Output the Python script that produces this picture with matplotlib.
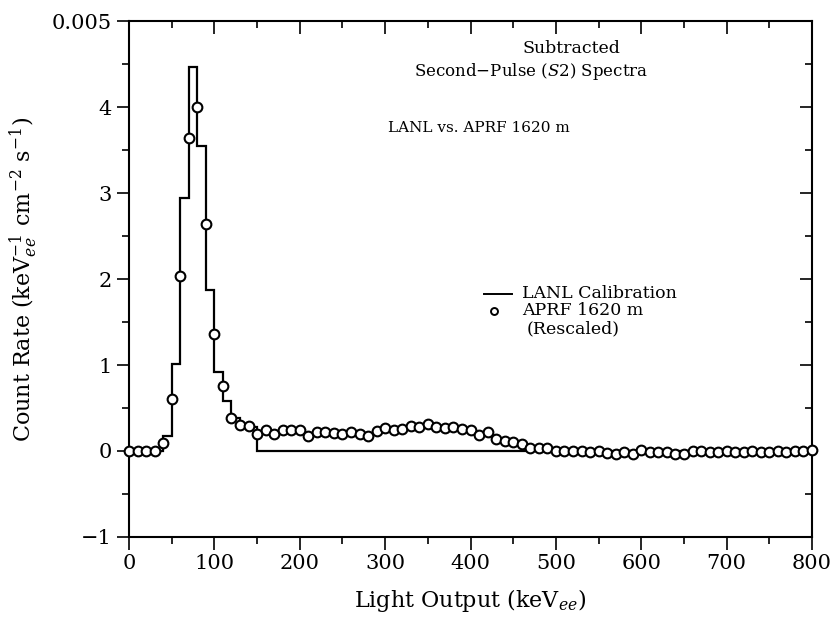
import numpy as np
import matplotlib
matplotlib.use('Agg')
import matplotlib.pyplot as plt

plt.rcParams['font.family'] = 'DejaVu Serif'
plt.rcParams['mathtext.fontset'] = 'dejavuserif'

# LANL calibration histogram, 10 keV bins from 0 to 800 keVee
bin_edges = np.arange(0, 810, 10)
lanl_peak = [0.0, 0.0, 0.0, 0.0, 0.17, 1.01, 2.94, 4.47, 3.55, 1.87,
             0.92, 0.58, 0.38, 0.28, 0.28]
lanl_values = np.array(lanl_peak + [0.0] * (80 - len(lanl_peak)))

# APRF 1620 m points (rescaled), one every 10 keV from 0 to 800
aprf_x = np.arange(0, 810, 10)
aprf_y = np.array([
    0.0, 0.0, 0.0, 0.0, 0.09, 0.60, 2.03, 3.64, 4.00, 2.64,
    1.36, 0.76, 0.38, 0.30, 0.29, 0.20, 0.24, 0.20, 0.24, 0.24,
    0.24, 0.17, 0.22, 0.22, 0.21, 0.20, 0.22, 0.20, 0.17, 0.23,
    0.27, 0.24, 0.26, 0.29, 0.28, 0.31, 0.28, 0.27, 0.28, 0.26,
    0.24, 0.19, 0.22, 0.14, 0.12, 0.10, 0.08, 0.04, 0.03, 0.03,
    0.0, 0.0, 0.0, 0.0, -0.01, 0.0, -0.02, -0.03, -0.01, -0.03,
    0.01, -0.01, -0.01, -0.01, -0.03, -0.03, 0.0, 0.0, -0.01, -0.01,
    0.0, -0.01, -0.01, 0.0, -0.01, -0.01, 0.0, -0.01, 0.0, 0.0,
    0.01])

y_ticks = [-1, 0, 1, 2, 3, 4, 5]
y_tick_labels = ['\u22121', '0', '1', '2', '3', '4', '0.005']
x_ticks = [0, 100, 200, 300, 400, 500, 600, 700, 800]

fig = plt.figure(figsize=(8.38, 6.37), dpi=100)
ax = fig.add_axes([0.154, 0.157, 0.815, 0.810])

ax.stairs(lanl_values, bin_edges, color='black', linewidth=1.6, zorder=2)
ax.plot(aprf_x, aprf_y, linestyle='none', marker='o', markersize=7,
        markerfacecolor='white', markeredgecolor='black', markeredgewidth=1.5,
        zorder=3, clip_on=False)

ax.set_xlim(0, 800)
ax.set_ylim(-1, 5)
ax.set_xticks(x_ticks)
ax.set_xticks(np.arange(50, 800, 100), minor=True)
ax.set_yticks(y_ticks)
ax.set_yticklabels(y_tick_labels)
ax.set_yticks(np.arange(-0.5, 5, 1), minor=True)

for s in ax.spines.values():
    s.set_linewidth(1.5)

ax.tick_params(axis='both', which='major', labelsize=15, width=1.2, length=9)
ax.tick_params(axis='both', which='minor', width=1.2, length=5)
ax.tick_params(axis='x', which='both', direction='out', top=True)
ax.tick_params(axis='y', which='both', direction='out', right=True)
# top and right ticks point inward
for t in ax.xaxis.get_major_ticks() + ax.xaxis.get_minor_ticks():
    t.tick2line.set_marker(3)
for t in ax.yaxis.get_major_ticks() + ax.yaxis.get_minor_ticks():
    t.tick2line.set_marker(0)

ax.set_xlabel(r'Light Output (keV$_{ee}$)', fontsize=16, labelpad=10)
ax.set_ylabel(r'Count Rate (keV$_{ee}^{-1}$ cm$^{-2}$ s$^{-1}$)', fontsize=16,
              labelpad=8)

ax.text(0.648, 0.947, 'Subtracted', transform=ax.transAxes, ha='center',
        va='center', fontsize=12.5)
ax.text(0.588, 0.902, r'Second$-$Pulse ($\mathit{S2}$) Spectra',
        transform=ax.transAxes, ha='center', va='center', fontsize=12)
ax.text(0.512, 0.793, 'LANL vs. APRF 1620 m', transform=ax.transAxes,
        ha='center', va='center', fontsize=11)

# hand-made legend
ax.plot([0.52, 0.56], [0.471, 0.471], transform=ax.transAxes, color='black',
        linewidth=1.4)
ax.text(0.575, 0.471, 'LANL Calibration', transform=ax.transAxes,
        ha='left', va='center', fontsize=12.5)
ax.plot([0.535], [0.438], transform=ax.transAxes, linestyle='none',
        marker='o', markersize=5, markerfacecolor='white',
        markeredgecolor='black', markeredgewidth=1.4)
ax.text(0.575, 0.438, 'APRF 1620 m', transform=ax.transAxes,
        ha='left', va='center', fontsize=12.5)
ax.text(0.582, 0.403, '(Rescaled)', transform=ax.transAxes,
        ha='left', va='center', fontsize=12.5)

fig.savefig('out.png', dpi=100)
